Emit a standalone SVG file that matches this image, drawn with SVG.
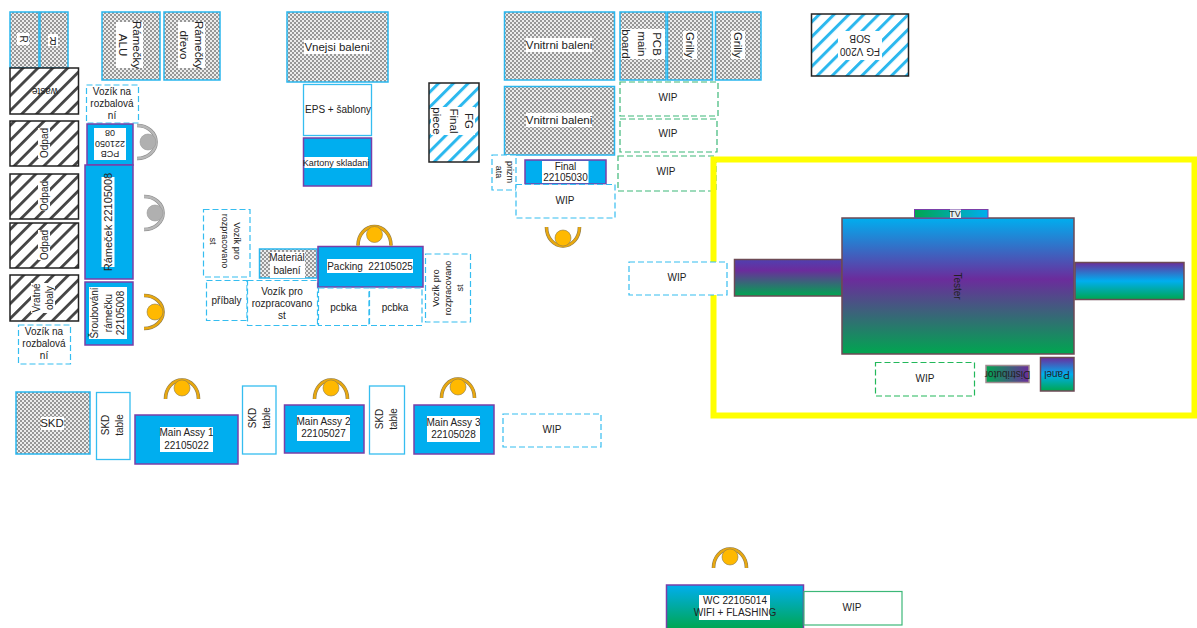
<svg xmlns="http://www.w3.org/2000/svg" xmlns:xlink="http://www.w3.org/1999/xlink" width="1197" height="628" viewBox="0 0 1197 628">
<style>
text{font-family:"Liberation Sans",Arial,sans-serif;font-size:10px;fill:#222;text-anchor:middle}
.lg{font-size:11.500px}.sm{font-size:9px}
.bg{fill:#fff;stroke:none}
.dot{fill:url(#dots);stroke:#29b6ee;stroke-width:1.5}
.hk{fill:url(#hatchK);stroke:#222;stroke-width:1.5}
.hb{fill:url(#hatchB);stroke:#222;stroke-width:1.5}
.bl{fill:#00aeef;stroke:#7a3fa8;stroke-width:1.5}
.dash{fill:#fff;stroke:#35bdf0;stroke-width:1.2;stroke-dasharray:6 3}
.gd{fill:#fff;stroke:#3cb878;stroke-width:1.2;stroke-dasharray:6 3}
.wh{fill:#fff;stroke:#35bdf0;stroke-width:1.3}
.gr{stroke:#6d4a55;stroke-width:1.5}
.arm{fill:none;stroke-linecap:butt}
</style>
<defs>
<pattern id="dots" width="4" height="4" patternUnits="userSpaceOnUse"><rect width="4" height="4" fill="#ececec"/><circle cx="1" cy="1" r=".8" fill="#2a2a2a"/><circle cx="3" cy="3" r=".8" fill="#2a2a2a"/></pattern>
<pattern id="hatchK" width="10.500" height="10.500" patternUnits="userSpaceOnUse" patternTransform="rotate(45)"><rect width="10.500" height="10.500" fill="#fff"/><rect width="2.800" height="10.500" fill="#444"/></pattern>
<pattern id="hatchB" width="10.500" height="10.500" patternUnits="userSpaceOnUse" patternTransform="rotate(45)"><rect width="10.500" height="10.500" fill="#fff"/><rect width="3" height="10.500" fill="#2bb8ee"/></pattern>
<linearGradient id="gTester" x1="0" y1="0" x2="0" y2="1"><stop offset="0" stop-color="#00aeef"/><stop offset=".45" stop-color="#6b2c9c"/><stop offset="1" stop-color="#00a650"/></linearGradient>
<linearGradient id="gLeft" x1="0" y1="0" x2="0" y2="1"><stop offset="0" stop-color="#5040b0"/><stop offset=".3" stop-color="#6b2c9c"/><stop offset="1" stop-color="#00a650"/></linearGradient>
<linearGradient id="gRight" x1="0" y1="0" x2="0" y2="1"><stop offset="0" stop-color="#6b2c9c"/><stop offset=".5" stop-color="#00aeef"/><stop offset="1" stop-color="#00a650"/></linearGradient>
<linearGradient id="gWC" x1="0" y1="0" x2="0" y2="1"><stop offset="0" stop-color="#00aeef"/><stop offset="1" stop-color="#00a650"/></linearGradient>
<linearGradient id="gTV" x1="0" y1="0" x2="1" y2="0"><stop offset="0" stop-color="#00a650"/><stop offset="1" stop-color="#00aeef"/></linearGradient>
<linearGradient id="gDist" x1="0" y1="0" x2="1" y2="0"><stop offset="0" stop-color="#00a650"/><stop offset="1" stop-color="#6b2c9c"/></linearGradient>
<g id="pO"><path class="arm" d="M-16.500,11C-16.500,0-9,-8 0,-8S16.500,0 16.500,11" stroke="#8a7a50" stroke-width="3.600"/><path class="arm" d="M-16.500,11C-16.500,0-9,-8 0,-8S16.500,0 16.500,11" stroke="#e8a810" stroke-width="2.400"/><circle r="8" fill="#ffb900" stroke="#8a7a50" stroke-width=".6"/></g>
<g id="pG"><path class="arm" d="M-16.500,11C-16.500,0-9,-8 0,-8S16.500,0 16.500,11" stroke="#8c8c8c" stroke-width="3.600"/><path class="arm" d="M-16.500,11C-16.500,0-9,-8 0,-8S16.500,0 16.500,11" stroke="#b8b8b8" stroke-width="2.400"/><circle r="8" fill="#b0b0b0" stroke="#999" stroke-width=".6"/></g>
</defs>

<g id="connectors"></g>

<g id="r1"><rect class="dot" x="10" y="12" width="29" height="56"/><g transform="translate(23,39) rotate(90)"><rect class="bg" x="-6" y="-6" width="12" height="12"/><text y="3.500">R</text></g></g>
<g id="r2"><rect class="dot" x="40" y="12" width="28" height="56"/><g transform="translate(53,40) rotate(180)"><rect class="bg" x="-5" y="-6" width="10" height="12"/><text y="3.500">R</text></g></g>
<g id="ramecky-alu"><rect class="dot" x="102" y="12" width="58" height="68"/><g transform="translate(130,45) rotate(90)"><rect class="bg" x="-23" y="-13" width="46" height="27"/><text class="lg" y="-3">Rámečky</text><text class="lg" y="11">ALU</text></g></g>
<g id="ramecky-drevo"><rect class="dot" x="164" y="12" width="56" height="68"/><g transform="translate(192,45) rotate(90)"><rect class="bg" x="-23" y="-13" width="46" height="27"/><text class="lg" y="-3">Rámečky</text><text class="lg" y="12">dřevo</text></g></g>
<g id="waste"><rect class="hk" x="10" y="68" width="68.500" height="46"/><text transform="translate(45,91) rotate(180)" y="3.500">waste</text></g>
<g id="odpad1"><rect class="hk" x="10" y="121" width="68.500" height="45"/><g transform="translate(44,143) rotate(-90)"><rect class="bg" x="-15" y="-6" width="30" height="12"/><text y="3.500">Odpad</text></g></g>
<g id="odpad2"><rect class="hk" x="10" y="174" width="68.500" height="45"/><g transform="translate(44,196) rotate(-90)"><rect class="bg" x="-15" y="-6" width="30" height="12"/><text y="3.500">Odpad</text></g></g>
<g id="odpad3"><rect class="hk" x="10" y="223" width="68.500" height="45"/><g transform="translate(44,245) rotate(-90)"><rect class="bg" x="-15" y="-6" width="30" height="12"/><text y="3.500">Odpad</text></g></g>
<g id="vratne"><rect class="hk" x="10" y="275" width="68.500" height="46"/><g transform="translate(43,298) rotate(-90)"><rect class="bg" x="-15" y="-12" width="30" height="24"/><text y="-3">Vratné</text><text y="10">obaly</text></g></g>
<g id="vozik-top"><rect class="dash" x="86.500" y="85" width="52" height="38"/><text x="112" y="95">Vozík na</text><text x="112" y="107">rozbalová</text><text x="112" y="119">ní</text></g>
<g id="pcb"><rect class="bl" x="87" y="124" width="46" height="41"/><g transform="translate(110,144) rotate(180)"><rect class="bg" x="-16" y="-16" width="32" height="32"/><text class="sm" y="-7">PCB</text><text class="sm" y="3.500">221050</text><text class="sm" y="14">08</text></g></g>
<g id="ramecek"><rect class="bl" x="85" y="165" width="48" height="114"/><g transform="translate(108,222) rotate(-90)"><rect class="bg" x="-45" y="-6.500" width="90" height="13"/><text y="4" style="font-size:11px">Rámeček 22105008</text></g></g>
<g id="srouboveni"><rect class="bl" x="85" y="282" width="48" height="63"/><g transform="translate(108,313) rotate(-90)"><rect class="bg" x="-26" y="-19" width="52" height="38"/><text y="-10">Šroubování</text><text y="3.500">rámečku</text><text y="16">22105008</text></g></g>
<g id="vozik-bottom"><rect class="dash" x="18.500" y="325" width="52" height="39"/><text x="44" y="335">Vozík na</text><text x="44" y="347">rozbalová</text><text x="44" y="359">ní</text></g>
<g id="worker-g1"><use xlink:href="#pG" href="#pG" transform="translate(148,142) rotate(90)"/></g>
<g id="worker-g2"><use xlink:href="#pG" href="#pG" transform="translate(155,213) rotate(90)"/></g>
<g id="worker-o1"><use xlink:href="#pO" href="#pO" transform="translate(155,312) rotate(90)"/></g>

<g id="vozik-a"><rect class="dash" x="203.500" y="209.500" width="46.500" height="67.500"/><g transform="translate(226,241) rotate(90)"><text class="sm" y="-8">Vozík pro</text><text class="sm" y="4">rozpracovano</text><text class="sm" y="16">st</text></g></g>
<g id="pribaly"><rect class="dash" x="206.500" y="280.500" width="40.500" height="40"/><text x="226.500" y="304">příbaly</text></g>
<g id="vozik-b"><rect class="dash" x="247.500" y="280.500" width="70" height="45"/><text x="282" y="295">Vozík pro</text><text x="282" y="307">rozpracovano</text><text x="282" y="319">st</text></g>
<g id="material"><rect class="dot" x="259.500" y="249" width="57.500" height="29"/><rect class="bg" x="270" y="252" width="35" height="26"/><text x="287" y="261">Materiál</text><text x="287" y="274">balení</text></g>
<g id="packing"><rect class="bl" x="318" y="246.500" width="105" height="40.500"/><rect class="bg" x="327" y="259" width="86" height="14"/><text x="370" y="270" style="white-space:pre" xml:space="preserve">Packing  22105025</text></g>
<g id="worker-o2"><use xlink:href="#pO" href="#pO" transform="translate(374.500,234.500)"/></g>
<g id="pcbka1"><rect class="dash" x="318.500" y="288" width="50.500" height="37.500"/><text x="343.500" y="311">pcbka</text></g>
<g id="pcbka2"><rect class="dash" x="369.500" y="288" width="52.500" height="37.500"/><text x="395" y="311">pcbka</text></g>
<g id="vozik-c"><rect class="dash" x="425.500" y="254" width="45" height="68"/><g transform="translate(448,288) rotate(-90)"><text class="sm" y="-9">Vozík pro</text><text class="sm" y="3">rozpracovano</text><text class="sm" y="15">st</text></g></g>

<g id="vnejsi"><rect class="dot" x="287" y="12" width="101" height="70"/><rect class="bg" x="304" y="40" width="66" height="14"/><text class="lg" x="337" y="51">Vnejsi baleni</text></g>
<g id="eps"><rect class="wh" x="303.500" y="84.500" width="68" height="51"/><text x="338" y="113">EPS + šablony</text></g>
<g id="kartony"><rect class="bl" x="303.500" y="138" width="68" height="48"/><rect class="bg" x="304.500" y="157" width="63.500" height="11"/><text class="sm" x="336" y="166">Kartony skladani</text></g>
<g id="fg-final"><rect class="hb" x="429" y="83" width="50" height="79"/><g transform="translate(453,121) rotate(90)"><rect class="bg" x="-14" y="-22" width="28" height="44"/><text class="lg" y="-12">FG</text><text class="lg" y="3">Final</text><text class="lg" y="20">piece</text></g></g>

<g id="vnitrni1"><rect class="dot" x="504.500" y="12" width="110" height="68"/><rect class="bg" x="526" y="38" width="66" height="14"/><text class="lg" x="559" y="49">Vnitrni baleni</text></g>
<g id="vnitrni2"><rect class="dot" x="504.500" y="86.500" width="110" height="68.500"/><rect class="bg" x="526" y="113" width="66" height="14"/><text class="lg" x="559" y="124">Vnitrni baleni</text></g>
<g id="pcb-main"><rect class="dot" x="620" y="12" width="46" height="68"/><g transform="translate(643,44) rotate(90)"><rect class="bg" x="-15" y="-22" width="30" height="44"/><text class="lg" y="-10">PCB</text><text class="lg" y="5">main</text><text class="lg" y="21">board</text></g></g>
<g id="grilly1"><rect class="dot" x="667.500" y="12" width="45" height="68"/><g transform="translate(690,45) rotate(90)"><rect class="bg" x="-14" y="-7" width="28" height="14"/><text class="lg" y="4">Grilly</text></g></g>
<g id="grilly2"><rect class="dot" x="715.500" y="12" width="45.500" height="68"/><g transform="translate(738,45) rotate(90)"><rect class="bg" x="-14" y="-7" width="28" height="14"/><text class="lg" y="4">Grilly</text></g></g>
<g id="wip-g1"><rect class="gd" x="620" y="82" width="98" height="34"/><text x="668" y="101">WIP</text></g>
<g id="wip-g2"><rect class="gd" x="620" y="119" width="97" height="33"/><text x="668" y="137">WIP</text></g>
<g id="wip-g3"><rect class="gd" x="618" y="156" width="98" height="35"/><text x="666" y="175">WIP</text></g>
<g id="prizmata"><rect class="dash" x="492" y="155" width="24" height="35"/><g transform="translate(504,172) rotate(90)"><text class="sm" y="-3">prizm</text><text class="sm" y="8">ata</text></g></g>
<g id="final"><rect class="bl" x="525" y="160" width="81" height="24"/><rect class="bg" x="542" y="161" width="46.500" height="22"/><text x="565.500" y="170">Final</text><text x="565.500" y="181">22105030</text></g>
<g id="wip-final"><rect class="dash" x="516" y="184.500" width="99" height="33.500"/><text x="565" y="204">WIP</text></g>
<g id="worker-o3"><use xlink:href="#pO" href="#pO" transform="translate(563,238) rotate(180)"/></g>

<g id="fg-v200"><rect class="hb" x="811.500" y="14" width="97" height="62"/><g transform="translate(860,45) rotate(180)"><rect class="bg" x="-22" y="-15" width="44" height="29"/><text y="-3">FG V200</text><text y="10">SOB</text></g></g>

<g id="zone"><rect x="713.500" y="159.500" width="481" height="256" fill="none" stroke="#ffff00" stroke-width="6"/></g>
<g id="wip-left"><rect class="dash" x="629" y="262" width="98" height="33"/><text x="677" y="281">WIP</text></g>
<g id="tester-left"><rect class="gr" x="734.500" y="259.500" width="107.500" height="36.500" fill="url(#gLeft)"/></g>
<g id="tester"><rect class="gr" x="842" y="218" width="232" height="136" fill="url(#gTester)"/><text transform="translate(957,286) rotate(90)" y="3.500">Tester</text></g>
<g id="tv"><rect x="914.500" y="209.500" width="73.500" height="8.500" fill="url(#gTV)" stroke="#7a3fa8" stroke-width="1"/><rect x="950" y="209.500" width="11" height="8.500" fill="#e6eef0"/><text class="sm" x="955" y="217">TV</text></g>
<g id="tester-right"><rect class="gr" x="1075" y="262.500" width="109" height="37" fill="url(#gRight)"/></g>
<g id="wip-tester"><rect class="gd" x="875.500" y="362.500" width="99" height="33.500" style="stroke:#22b85a"/><text x="925" y="382">WIP</text></g>
<g id="distributor"><rect class="gr" x="986" y="365.500" width="43" height="17" fill="url(#gDist)" style="stroke:#a08a90"/><text transform="translate(1007.500,374) rotate(180)" y="3.500">Distributor</text></g>
<g id="panel"><rect class="gr" x="1040.500" y="357.500" width="33.500" height="33.500" fill="url(#gRight)"/><text transform="translate(1057,374) rotate(180)" y="3.500">Panel</text></g>

<g id="skd"><rect class="dot" x="16" y="392" width="74" height="62"/><rect class="bg" x="41" y="417" width="23" height="13"/><text class="lg" x="52" y="427">SKD</text></g>
<g id="skd-t1"><rect class="wh" x="96.500" y="392.500" width="33.500" height="67"/><g transform="translate(114,425) rotate(-90)"><text y="-5">SKD</text><text y="9">table</text></g></g>
<g id="main1"><rect class="bl" x="135" y="415" width="103" height="49"/><rect class="bg" x="160" y="427" width="53" height="25"/><text x="186.500" y="436">Main Assy 1</text><text x="186.500" y="449">22105022</text></g>
<g id="worker-o4"><use xlink:href="#pO" href="#pO" transform="translate(182,388)"/></g>
<g id="skd-t2"><rect class="wh" x="242.500" y="386" width="33.500" height="68"/><g transform="translate(261,418) rotate(-90)"><text y="-5">SKD</text><text y="9">table</text></g></g>
<g id="main2"><rect class="bl" x="284.500" y="405" width="79.500" height="48"/><rect class="bg" x="297" y="415" width="53" height="26"/><text x="323.500" y="425">Main Assy 2</text><text x="323.500" y="437">22105027</text></g>
<g id="worker-o5"><use xlink:href="#pO" href="#pO" transform="translate(331,388)"/></g>
<g id="skd-t3"><rect class="wh" x="369.500" y="386" width="35" height="68"/><g transform="translate(388,419) rotate(-90)"><text y="-5">SKD</text><text y="9">table</text></g></g>
<g id="main3"><rect class="bl" x="414" y="405" width="80" height="49"/><rect class="bg" x="427" y="416" width="53" height="26"/><text x="453.500" y="426">Main Assy 3</text><text x="453.500" y="438">22105028</text></g>
<g id="worker-o6"><use xlink:href="#pO" href="#pO" transform="translate(458,387)"/></g>
<g id="wip-main"><rect class="dash" x="503" y="414" width="98" height="33"/><text x="552" y="433">WIP</text></g>

<g id="worker-o7"><use xlink:href="#pO" href="#pO" transform="translate(730,557)"/></g>
<g id="wc"><rect x="666.500" y="585" width="137" height="44" fill="url(#gWC)" stroke="#7a3fa8" stroke-width="1.500"/><rect class="bg" x="699" y="595" width="71" height="25"/><text x="735" y="604">WC 22105014</text><text x="735" y="616">WIFI + FLASHING</text></g>
<g id="wip-wc"><rect x="804" y="591.500" width="98" height="33.500" fill="#fff" stroke="#3cb878" stroke-width="1.200"/><text x="852" y="611">WIP</text></g>
</svg>
